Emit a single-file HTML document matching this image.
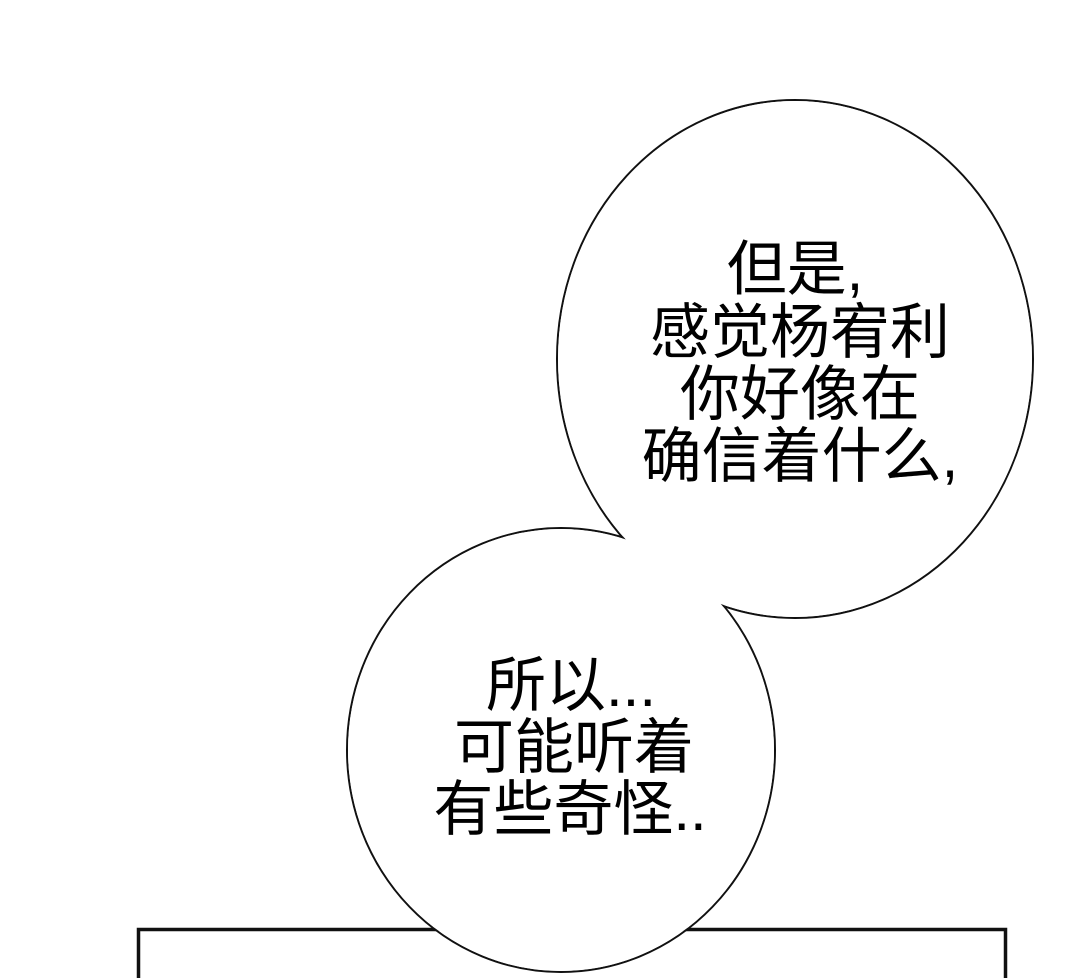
<!DOCTYPE html>
<html><head><meta charset="utf-8"><style>
html,body{margin:0;padding:0;background:#fff;}
svg{display:block}
text{font-family:"Liberation Sans","Noto Sans CJK SC",sans-serif;font-size:60px;fill:#000;text-anchor:middle}
</style></head><body>
<svg width="1080" height="978" viewBox="0 0 1080 978" xmlns="http://www.w3.org/2000/svg">
<rect x="0" y="0" width="1080" height="978" fill="#fff"/>
<rect x="138.5" y="929.5" width="867" height="80" fill="none" stroke="#111" stroke-width="3.5"/>
<ellipse cx="795" cy="359" rx="238" ry="259" fill="none" stroke="#111" stroke-width="2"/>
<ellipse cx="561" cy="750" rx="214" ry="222" fill="none" stroke="#111" stroke-width="2"/>
<ellipse cx="795" cy="359" rx="237" ry="258" fill="#fff"/>
<ellipse cx="561" cy="750" rx="213" ry="221" fill="#fff"/>
<g>
<text x="795" y="290">但是,</text>
<text x="800" y="353">感觉杨宥利</text>
<text x="800" y="415">你好像在</text>
<text x="800" y="477">确信着什么,</text>
<text x="571" y="706">所以...</text>
<text x="574" y="768">可能听着</text>
<text x="570" y="830">有些奇怪..</text>
</g>
</svg>
</body></html>
